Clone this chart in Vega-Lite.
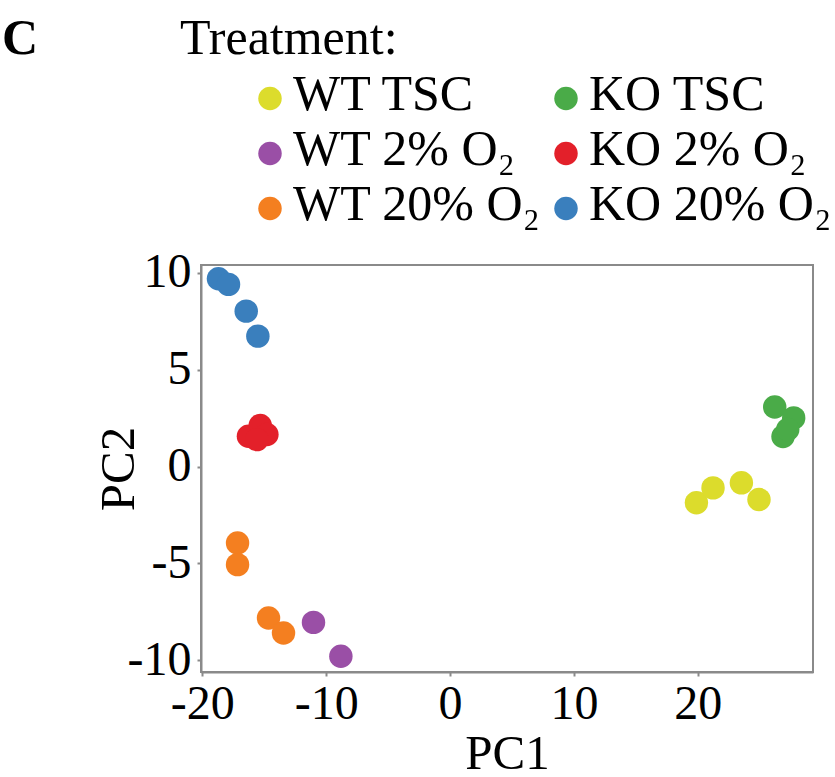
{
  "$schema": "https://vega.github.io/schema/vega-lite/v6.json",
  "width": 612,
  "height": 407,
  "autosize": {"type": "none"},
  "padding": {"left": 201, "top": 265, "right": 22, "bottom": 105},
  "background": "white",
  "title": {
    "text": "C",
    "anchor": "start",
    "frame": "group",
    "font": "Liberation Serif",
    "fontSize": 50,
    "fontWeight": "bold",
    "color": "black",
    "baseline": "alphabetic",
    "dx": -199,
    "offset": -88
  },
  "config": {
    "view": {"stroke": "#8a8a8a", "strokeWidth": 2},
    "font": "Liberation Serif",
    "axis": {
      "grid": false,
      "labelFont": "Liberation Serif",
      "labelFontSize": 48,
      "labelColor": "black",
      "labelFlush": false,
      "labelOverlap": false,
      "labelBound": false,
      "tickSize": 4,
      "tickWidth": 2,
      "tickColor": "#8a8a8a",
      "domainColor": "#8a8a8a",
      "domainWidth": 2,
      "titleFont": "Liberation Serif",
      "titleFontSize": 49,
      "titleFontWeight": "normal",
      "titleColor": "black"
    }
  },
  "data": {
    "values": [
      {"Treatment": "KO 20% O₂", "PC1": -18.69, "PC2": 9.69},
      {"Treatment": "KO 20% O₂", "PC1": -17.88, "PC2": 9.4},
      {"Treatment": "KO 20% O₂", "PC1": -16.45, "PC2": 8.02},
      {"Treatment": "KO 20% O₂", "PC1": -15.51, "PC2": 6.73},
      {"Treatment": "KO 2% O₂", "PC1": -16.27, "PC2": 1.56},
      {"Treatment": "KO 2% O₂", "PC1": -15.32, "PC2": 2.12},
      {"Treatment": "KO 2% O₂", "PC1": -14.78, "PC2": 1.65},
      {"Treatment": "KO 2% O₂", "PC1": -15.59, "PC2": 1.39},
      {"Treatment": "KO TSC", "PC1": 26.21, "PC2": 3.07},
      {"Treatment": "KO TSC", "PC1": 27.74, "PC2": 2.51},
      {"Treatment": "KO TSC", "PC1": 26.88, "PC2": 1.55},
      {"Treatment": "KO TSC", "PC1": 27.26, "PC2": 1.91},
      {"Treatment": "WT TSC", "PC1": 19.89, "PC2": -1.87},
      {"Treatment": "WT TSC", "PC1": 21.23, "PC2": -1.1},
      {"Treatment": "WT TSC", "PC1": 23.52, "PC2": -0.84},
      {"Treatment": "WT TSC", "PC1": 24.94, "PC2": -1.7},
      {"Treatment": "WT 20% O₂", "PC1": -17.15, "PC2": -3.94},
      {"Treatment": "WT 20% O₂", "PC1": -17.15, "PC2": -5.06},
      {"Treatment": "WT 20% O₂", "PC1": -14.65, "PC2": -7.81},
      {"Treatment": "WT 20% O₂", "PC1": -13.44, "PC2": -8.59},
      {"Treatment": "WT 2% O₂", "PC1": -11.02, "PC2": -8.04},
      {"Treatment": "WT 2% O₂", "PC1": -8.81, "PC2": -9.79}
    ]
  },
  "mark": {"type": "circle", "size": 550, "opacity": 1},
  "encoding": {
    "x": {
      "field": "PC1",
      "type": "quantitative",
      "scale": {"domain": [-20.1, 29.3], "nice": false, "zero": false},
      "axis": {
        "values": [-20, -10, 0, 10, 20],
        "labelExpr": "datum.value < 0 ? '-' + abs(datum.value) : '' + datum.value",
        "labelPadding": 4,
        "title": "PC1",
        "titlePadding": 1
      }
    },
    "y": {
      "field": "PC2",
      "type": "quantitative",
      "scale": {"domain": [-10.6, 10.4], "nice": false, "zero": false},
      "axis": {
        "values": [-10, -5, 0, 5, 10],
        "labelExpr": "datum.value < 0 ? '-' + abs(datum.value) : '' + datum.value",
        "labelPadding": 6,
        "title": "PC2",
        "titlePadding": -16
      }
    },
    "color": {
      "field": "Treatment",
      "type": "nominal",
      "scale": {
        "domain": ["WT TSC", "WT 2% O₂", "WT 20% O₂", "KO TSC", "KO 2% O₂", "KO 20% O₂"],
        "range": ["#dcdc2c", "#9a4fa6", "#f47f20", "#4aab48", "#e3202a", "#3a7fbd"]
      },
      "legend": {
        "orient": "none",
        "legendX": -21,
        "legendY": -249.5,
        "title": "Treatment:",
        "titleFont": "Liberation Serif",
        "titleFontSize": 50,
        "titleFontWeight": "normal",
        "titleColor": "black",
        "titleLimit": 600,
        "titlePadding": 8,
        "columns": 2,
        "symbolType": "circle",
        "symbolSize": 550,
        "symbolStrokeWidth": 0,
        "symbolOpacity": 1,
        "labelFont": "Liberation Serif",
        "labelFontSize": 50,
        "labelColor": "black",
        "labelOffset": -2,
        "labelLimit": 400,
        "rowPadding": 5,
        "columnPadding": -12,
        "padding": 0,
        "encode": {
          "title": {"update": {"dx": {"value": -65}, "dy": {"value": -2}}},
          "labels": {"update": {"dy": {"value": -4}}}
        }
      }
    }
  }
}
